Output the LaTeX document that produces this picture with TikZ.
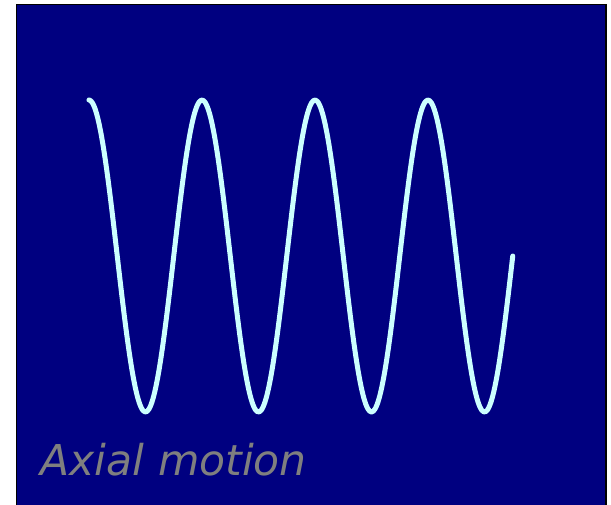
\documentclass[tikz,border=0pt]{standalone}
\usepackage{fontspec}
\setmainfont{DejaVu Sans}
\definecolor{navyb}{HTML}{000080}
\definecolor{wave}{HTML}{CCFFFF}
\definecolor{lbl}{HTML}{7F7F7F}
\begin{document}
\begin{tikzpicture}[x=1pt,y=-1pt,
  frame/.style={fill=navyb,draw=black,line width=1.6pt},
  wavecurve/.style={draw=wave,line width=5pt,line cap=round,line join=round},
  label/.style={text=lbl,font=\fontsize{42.5}{50}\selectfont\itshape,anchor=base west,inner sep=0pt}]
\useasboundingbox (0,0) rectangle (611,504);
\path[frame] (16.5,4.5) rectangle (606,510);
\draw[wavecurve,samples=220,domain=0:423.75,smooth] plot ({89+\x},{256-156*cos(\x/113*360)});
\node[label] (t) at (40.5,475) {Axial motion};
\end{tikzpicture}
\end{document}
